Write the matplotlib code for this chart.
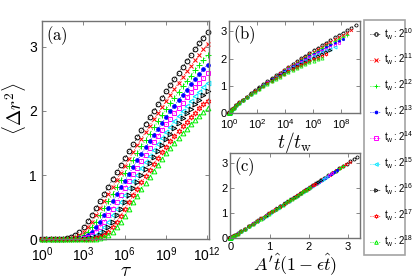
import matplotlib
matplotlib.use('Agg')
import matplotlib.pyplot as plt
import numpy as np

plt.rcParams['font.family'] = ['Liberation Sans', 'DejaVu Sans']
plt.rcParams['mathtext.fontset'] = 'custom'
plt.rcParams['mathtext.rm'] = 'Liberation Sans'
plt.rcParams['mathtext.it'] = 'Liberation Sans:italic'
plt.rcParams['mathtext.bf'] = 'Liberation Sans:bold'

# ---------------- data ----------------
tau_exp = list(range(41))            # tau = 2**k
tw_exp = [10, 11, 12, 13, 14, 15, 16, 17, 18]   # t_w = 2**e

msd_10 = [0.000, 0.001, 0.001, 0.003, 0.005, 0.011, 0.021, 0.039, 0.071, 0.121, 0.191, 0.279, 0.379, 0.487,
          0.598, 0.710, 0.823, 0.936, 1.047, 1.158, 1.267, 1.376, 1.483, 1.589, 1.695, 1.799, 1.902, 2.004,
          2.104, 2.204, 2.303, 2.400, 2.496, 2.592, 2.686, 2.779, 2.871, 2.961, 3.051, 3.140, 3.227]
msd_11 = [0.000, 0.000, 0.001, 0.001, 0.003, 0.005, 0.011, 0.021, 0.039, 0.071, 0.121, 0.191, 0.278, 0.378,
          0.485, 0.595, 0.706, 0.818, 0.929, 1.038, 1.147, 1.254, 1.360, 1.465, 1.568, 1.670, 1.771, 1.870,
          1.968, 2.065, 2.160, 2.254, 2.347, 2.439, 2.529, 2.617, 2.705, 2.791, 2.876, 2.959, 3.041]
msd_12 = [0.000, 0.000, 0.000, 0.001, 0.001, 0.003, 0.005, 0.011, 0.021, 0.039, 0.071, 0.121, 0.190, 0.277,
          0.377, 0.483, 0.592, 0.702, 0.813, 0.922, 1.029, 1.136, 1.241, 1.344, 1.446, 1.547, 1.646, 1.743,
          1.839, 1.933, 2.026, 2.117, 2.206, 2.294, 2.381, 2.466, 2.549, 2.631, 2.711, 2.790, 2.867]
msd_13 = [0.000, 0.000, 0.000, 0.000, 0.001, 0.001, 0.003, 0.005, 0.011, 0.021, 0.039, 0.071, 0.120, 0.190,
          0.277, 0.376, 0.481, 0.590, 0.699, 0.808, 0.916, 1.022, 1.127, 1.230, 1.331, 1.431, 1.529, 1.625,
          1.719, 1.812, 1.903, 1.992, 2.080, 2.165, 2.249, 2.332, 2.412, 2.491, 2.568, 2.644, 2.717]
msd_14 = [0.000, 0.000, 0.000, 0.000, 0.000, 0.001, 0.001, 0.003, 0.005, 0.011, 0.021, 0.039, 0.071, 0.120,
          0.190, 0.277, 0.375, 0.480, 0.588, 0.696, 0.804, 0.910, 1.015, 1.118, 1.219, 1.319, 1.416, 1.512,
          1.606, 1.698, 1.788, 1.876, 1.962, 2.046, 2.128, 2.209, 2.287, 2.364, 2.439, 2.512, 2.582]
msd_15 = [0.000, 0.000, 0.000, 0.000, 0.000, 0.000, 0.001, 0.001, 0.003, 0.005, 0.011, 0.021, 0.039, 0.071,
          0.120, 0.190, 0.276, 0.374, 0.478, 0.585, 0.692, 0.798, 0.903, 1.006, 1.107, 1.206, 1.303, 1.398,
          1.491, 1.581, 1.670, 1.756, 1.840, 1.922, 2.002, 2.080, 2.156, 2.230, 2.301, 2.370, 2.438]
msd_16 = [0.000, 0.000, 0.000, 0.000, 0.000, 0.000, 0.000, 0.001, 0.001, 0.003, 0.005, 0.011, 0.021, 0.039,
          0.071, 0.120, 0.189, 0.275, 0.373, 0.476, 0.582, 0.688, 0.794, 0.897, 0.998, 1.097, 1.194, 1.289,
          1.381, 1.471, 1.558, 1.644, 1.727, 1.808, 1.886, 1.962, 2.036, 2.107, 2.176, 2.243, 2.307]
msd_17 = [0.000, 0.000, 0.000, 0.000, 0.000, 0.000, 0.000, 0.000, 0.001, 0.001, 0.003, 0.005, 0.011, 0.021,
          0.039, 0.071, 0.120, 0.189, 0.275, 0.371, 0.474, 0.579, 0.683, 0.786, 0.888, 0.987, 1.083, 1.177,
          1.268, 1.357, 1.443, 1.526, 1.607, 1.686, 1.761, 1.834, 1.905, 1.973, 2.038, 2.101, 2.161]
msd_18 = [0.000, 0.000, 0.000, 0.000, 0.000, 0.000, 0.000, 0.000, 0.000, 0.001, 0.001, 0.003, 0.005, 0.011,
          0.021, 0.039, 0.071, 0.120, 0.189, 0.274, 0.370, 0.472, 0.576, 0.679, 0.781, 0.880, 0.977, 1.071,
          1.162, 1.251, 1.337, 1.420, 1.500, 1.577, 1.652, 1.723, 1.792, 1.858, 1.921, 1.981, 2.038]

# scaling fit parameters used for the collapse in panel (c)
A_fit = 0.175
eps_fit = [0.0066, 0.0079, 0.0092, 0.0103, 0.0113, 0.0126, 0.0138, 0.0155, 0.0169]

msd = [msd_10, msd_11, msd_12, msd_13, msd_14, msd_15, msd_16, msd_17, msd_18]

colors = ['k', '#ff0000', '#00ee00', '#0000ff', '#ff00ff', '#00e5ff', 'k', '#ff0000', '#00ee00']
markers = ['o', 'x', '+', 'o', 's', '<', '>', (6, 1, 0), '^']
filled = [False, True, True, True, False, False, False, False, False]
msize_a = [3.4, 3.2, 3.8, 2.6, 3.2, 3.4, 3.4, 3.8, 3.4]

# ---------------- figure ----------------
fig = plt.figure(figsize=(4.15, 2.79), dpi=100)
axa = fig.add_axes([0.102, 0.142, 0.401, 0.783])
axb = fig.add_axes([0.553, 0.596, 0.314, 0.330])
axc = fig.add_axes([0.555, 0.146, 0.312, 0.307])
axl = fig.add_axes([0.877, 0.143, 0.099, 0.785])
axl.axis('off')

tau = np.array([2.0 ** k for k in tau_exp])
handles = []
for i, e in enumerate(tw_exp):
    tw = 2.0 ** e
    y = np.array(msd[i])
    c = colors[i]
    mfc = c if filled[i] else 'none'
    kw = dict(color=c, ls=':', lw=0.6, marker=markers[i], mfc=mfc, mec=c, clip_on=False)
    h, = axa.plot(tau, y, ms=msize_a[i], mew=0.7, **kw)
    handles.append(h)
    axb.plot(1.0 + tau / tw, y, ms=msize_a[i] * 0.65, mew=0.55, **kw)
    that = np.log(1.0 + 2.0 * tau / tw)
    xs = A_fit * that * (1.0 - eps_fit[i] * that)
    axc.plot(xs, y, ms=msize_a[i] * 0.65, mew=0.55, **kw)

spine_col = '0.45'
for ax in (axa, axb, axc):
    for s in ax.spines.values():
        s.set_color(spine_col)
        s.set_linewidth(1.0)
    ax.tick_params(direction='in', top=True, right=True, length=3, width=0.6,
                   color=spine_col, pad=2)
    ax.tick_params(which='minor', length=0)
    ax.set_ylim(0, 3.4)
    ax.set_yticks([0, 1, 2, 3])

axa.set_xscale('log')
axa.set_xlim(1, 10 ** 12.13)
axa.set_xticks([1e0, 1e3, 1e6, 1e9, 1e12])
axa.tick_params(labelsize=10)
axa.tick_params(axis='x', pad=4.5)
axa.tick_params(axis='y', pad=4)
axa.set_xlabel(r'$\tau$', fontsize=14, math_fontfamily='cm', labelpad=-1)
axa.set_ylabel(r'$\langle\Delta r^2\rangle$', fontsize=14, math_fontfamily='cm')
axa.yaxis.set_label_coords(-0.088, 0.6)
axa.text(0.02, 0.985, r'$\mathrm{(a)}$', transform=axa.transAxes, fontsize=12,
         math_fontfamily='cm', va='top', ha='left')

axb.set_xscale('log')
axb.set_xlim(1, 2.0 ** 31)
axb.set_xticks([1e0, 1e2, 1e4, 1e6, 1e8])
axb.tick_params(labelsize=8)
axb.tick_params(axis='x', pad=3.5)
axb.set_xlabel(r'$t/t_{\rm w}$', fontsize=14, math_fontfamily='cm', labelpad=-1)
axb.text(0.03, 0.97, r'$\mathrm{(b)}$', transform=axb.transAxes, fontsize=12,
         math_fontfamily='cm', va='top', ha='left')

axc.set_xlim(0, 3.3)
axc.set_xticks([0, 1, 2, 3])
axc.tick_params(labelsize=8)
axc.tick_params(axis='x', pad=3)
axc.set_xlabel(r"$A'\hat{t}(1-\epsilon\hat{t})$", fontsize=13, math_fontfamily='cm', labelpad=-1)
axc.text(0.03, 0.97, r'$\mathrm{(c)}$', transform=axc.transAxes, fontsize=12,
         math_fontfamily='cm', va='top', ha='left')

labels = [r'$\mathregular{t_w: 2^{%d}}$' % e for e in tw_exp]
leg = axl.legend(handles, labels, loc='upper left', bbox_to_anchor=(0, 0, 1, 1),
                 mode='expand', borderaxespad=0, fontsize=7, handlelength=1.2,
                 handletextpad=0.3, labelspacing=1.06, borderpad=0.6,
                 fancybox=False, frameon=True, markerscale=0.75)
leg.get_frame().set_edgecolor('0.55')
leg.get_frame().set_linewidth(1.2)
# stretch the legend frame to the full reference box height
fig.canvas.draw()
bb = leg.get_window_extent()
leg.get_frame().set_bounds(bb.x0, fig.bbox.height * 0.143, bb.width,
                           bb.y1 - fig.bbox.height * 0.143)

fig.savefig('out.png', dpi=100)
